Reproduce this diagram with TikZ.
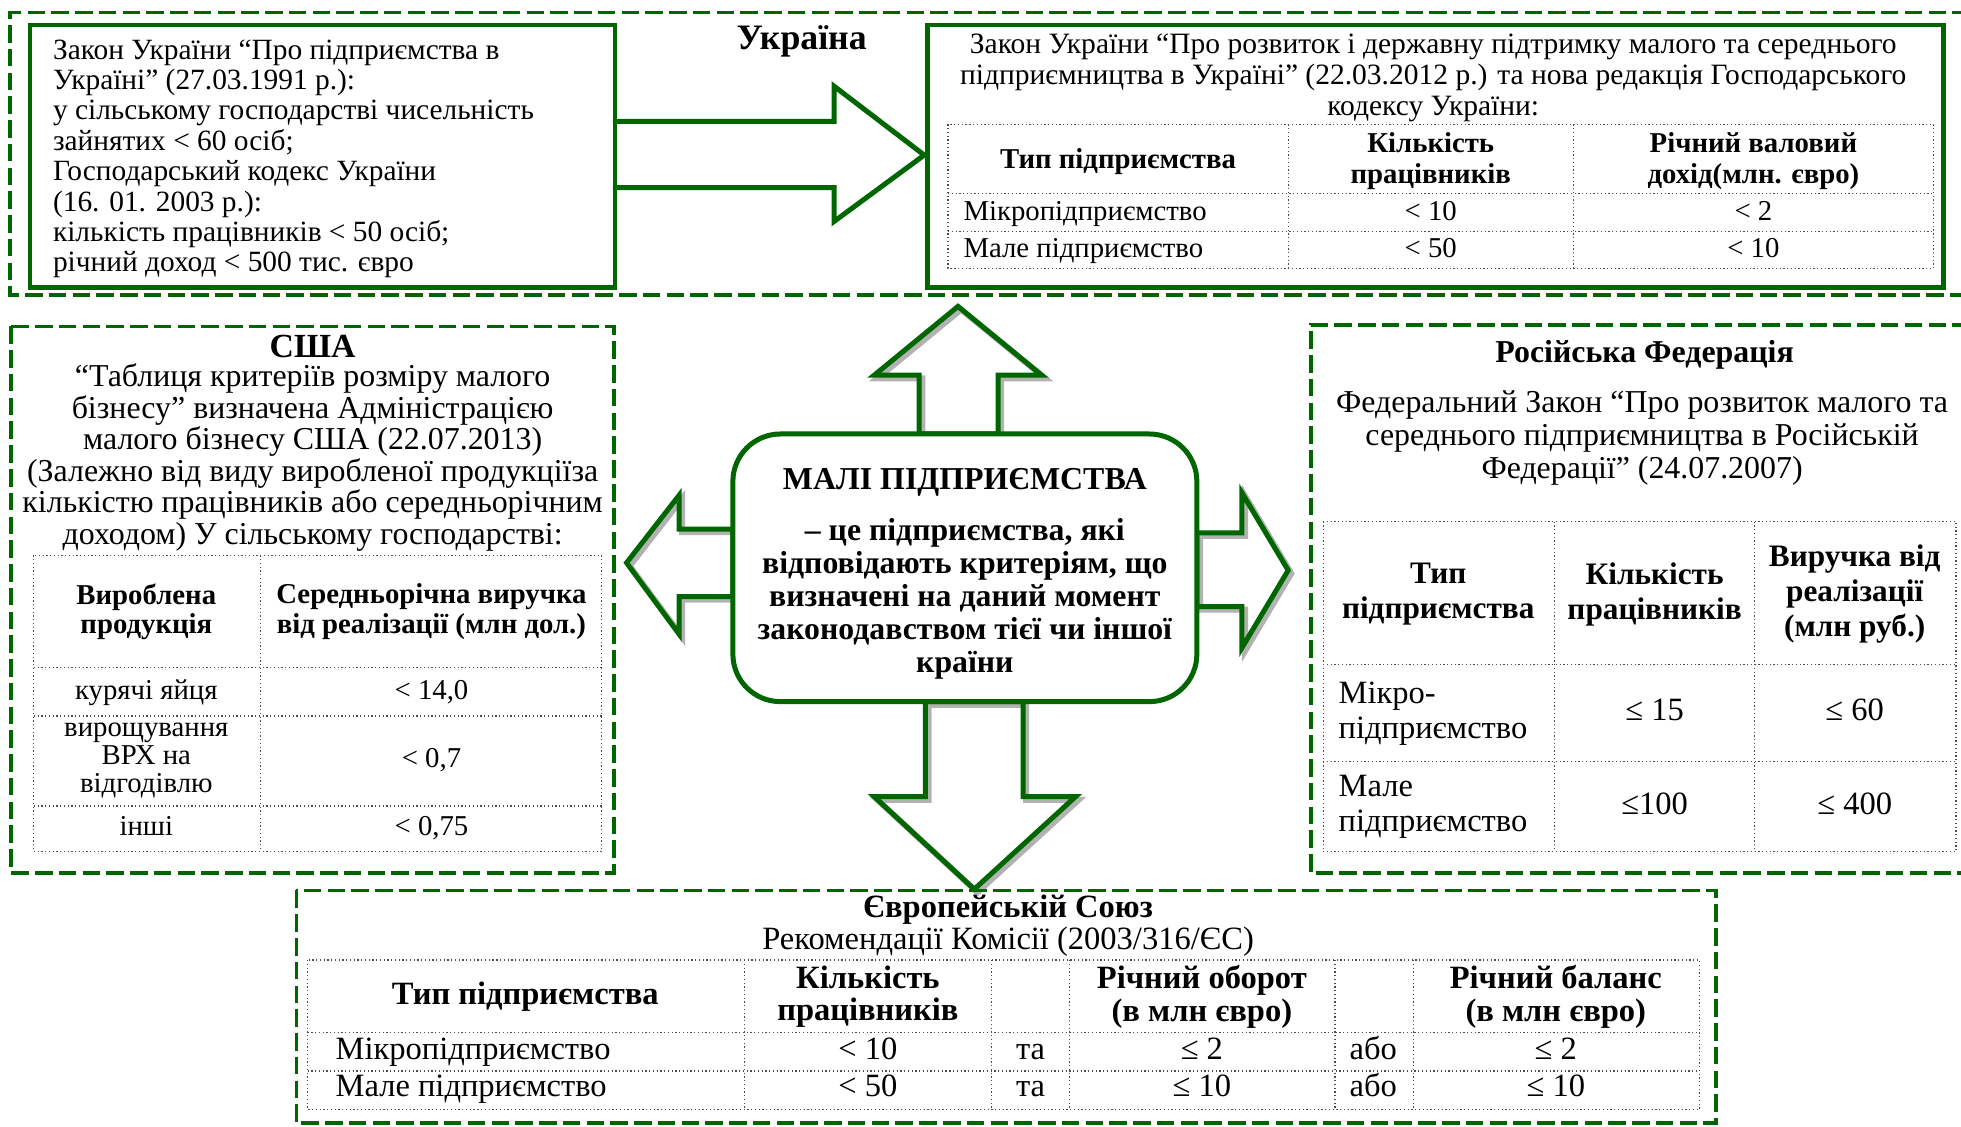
\documentclass[tikz,border=0pt]{standalone}
\usepackage{fontspec}
\setmainfont{Liberation Serif}
\definecolor{lawgreen}{RGB}{0,102,0}
\newcommand\fz[2]{\fontsize{#1}{#2}\selectfont}
\begin{document}
\begin{tikzpicture}[x=0.5pt,y=-0.5pt,
  region/.style={draw=lawgreen, line width=1.5pt, dash pattern=on 7pt off 2.5pt},
  solidbox/.style={draw=lawgreen, line width=1.8pt, inner sep=0pt},
  blockarrow/.style={draw=lawgreen, line width=2pt, line join=miter},
  arrowshade/.style={draw=black!30, line width=2.4pt, line join=miter},
  tabrule/.style={densely dotted, line width=0.5pt, black!70},
  txt/.style={inner sep=0pt, align=center, font=\fz{11.5}{12.2}},
  head/.style={inner sep=0pt, align=center, font=\bfseries\fz{11.5}{12.4}},
  cell/.style={txt, text height=8.5pt, text depth=2.5pt},
]
\useasboundingbox (0,0) rectangle (1568,901);

% ---------- Ukraine ----------
\draw[region] (1575,10) -- (8,10) -- (8,236) -- (1575,236);
\node[solidbox, minimum width=234pt, minimum height=105pt, anchor=north west] (uaold) at (22,18) {};
\node[solidbox, minimum width=406pt, minimum height=105pt, anchor=north west] (uanew) at (740,18) {};
\draw[blockarrow] (490,97) -- (667,97) -- (667,69) -- (739,124) -- (667,177) -- (667,150) -- (490,150);
\node[inner sep=0pt, font=\bfseries\fz{14.3}{15}] (ua) at (641,33) {Україна};

\node[txt, align=left, anchor=west, font=\fz{11.75}{12.15}] (uaoldtxt) at (42,127)
 {Закон України “Про підприємства в\\
  Україні” (27.03.1991 р.):\\
  у сільському господарстві чисельність\\
  зайнятих < 60 осіб;\\
  Господарський кодекс України\\
  (16. 01. 2003 р.):\\
  кількість працівників < 50 осіб;\\
  річний доход < 500 тис. євро};

\node[txt, font=\fz{11.8}{12.4}] (uanewtxt) at (1146,62)
 {Закон України “Про розвиток і державну підтримку малого та середнього\\
  підприємництва в Україні” (22.03.2012 р.) та нова редакція Господарського\\
  кодексу України:};

\draw[tabrule] (758,99.5) rectangle (1546,214.5);
\draw[tabrule] (758,155) -- (1546,155) (758,185) -- (1546,185)
               (1030,99.5) -- (1030,214.5) (1258,99.5) -- (1258,214.5);
\node[head] (ua11) at (894,129) {Тип підприємства};
\node[head] (ua12) at (1144,129) {Кількість\\працівників};
\node[head] (ua13) at (1402,129) {Річний валовий\\дохід(млн. євро)};
\node[cell, anchor=west] (ua21) at (770,170) {Мікропідприємство};
\node[cell] (ua22) at (1144,170) {< 10};
\node[cell] (ua23) at (1402,170) {< 2};
\node[cell, anchor=west] (ua31) at (770,200) {Мале підприємство};
\node[cell] (ua32) at (1144,200) {< 50};
\node[cell] (ua33) at (1402,200) {< 10};

% ---------- block arrows round the centre ----------
\begin{scope}[shift={(2.5,2.5)}]
\draw[arrowshade] (735,347) -- (735,300) -- (699,300) -- (766,245) -- (833,300) -- (798,300) -- (798,347) -- cycle;
\draw[arrowshade] (586,423) -- (543,423) -- (543,396) -- (501,450) -- (543,507) -- (543,477) -- (586,477) -- cycle;
\draw[arrowshade] (957,426) -- (993,426) -- (993,394) -- (1030,456) -- (993,518) -- (993,485) -- (957,485) -- cycle;
\draw[arrowshade] (740,561) -- (740,637) -- (699,637) -- (779,711) -- (860,637) -- (818,637) -- (818,561) -- cycle;
\end{scope}
\draw[blockarrow] (735,347) -- (735,300) -- (699,300) -- (766,245) -- (833,300) -- (798,300) -- (798,347) -- cycle;
\draw[blockarrow] (586,423) -- (543,423) -- (543,396) -- (501,450) -- (543,507) -- (543,477) -- (586,477) -- cycle;
\draw[blockarrow] (957,426) -- (993,426) -- (993,394) -- (1030,456) -- (993,518) -- (993,485) -- (957,485) -- cycle;
\draw[blockarrow] (740,561) -- (740,637) -- (699,637) -- (779,711) -- (860,637) -- (818,637) -- (818,561) -- cycle;

\node[solidbox, line width=2pt, rounded corners=19pt, fill=white, minimum width=185.5pt, minimum height=107pt] (core) at (771.5,454) {};
\node[inner sep=0pt, font=\bfseries\fz{12.75}{13}] (coretitle) at (771.5,386) {МАЛІ ПІДПРИЄМСТВА};
\node[inner sep=0pt, align=center, font=\bfseries\fz{12.7}{13.25}] (coretxt) at (771.5,479)
 {– це підприємства, які\\відповідають критеріям, що\\визначені на даний момент\\законодавством тієї чи іншої\\країни};

% ---------- USA ----------
\draw[region] (9,261) rectangle (491,698);
\node[inner sep=0pt, font=\bfseries\fz{13.5}{14}] (us) at (250,277) {США};
\node[txt, font=\fz{12.75}{12.6}] (ustxt) at (250,366)
 {“Таблиця критеріїв розміру малого\\
  бізнесу” визначена Адміністрацією\\
  малого бізнесу США (22.07.2013)\\
  (Залежно від виду виробленої продукціїза\\
  кількістю працівників або середньорічним\\
  доходом) У сільському господарстві:};
\draw[tabrule] (27,444) rectangle (481,681);
\draw[tabrule] (27,534) -- (481,534) (27,572.5) -- (481,572.5) (27,644.5) -- (481,644.5)
               (208,444) -- (208,681);
\node[head, font=\bfseries\fz{11.5}{11.8}] (us11) at (117,489) {Вироблена\\продукція};
\node[head, font=\bfseries\fz{11.5}{11.8}] (us12) at (345,489) {Середньорічна виручка\\від реалізації (млн дол.)};
\node[cell] (us21) at (117,553) {курячі яйця};
\node[cell] (us22) at (345,553) {< 14,0};
\node[txt, font=\fz{11.5}{11.3}] (us31) at (117,608) {вирощування\\ВРХ на\\відгодівлю};
\node[cell] (us32) at (345,608) {< 0,7};
\node[cell] (us41) at (117,662) {інші};
\node[cell] (us42) at (345,662) {< 0,75};

% ---------- Russian Federation ----------
\draw[region] (1575,260) -- (1048,260) -- (1048,698) -- (1575,698);
\node[inner sep=0pt, font=\bfseries\fz{12.75}{13}] (ru) at (1315,284) {Російська Федерація};
\node[txt, font=\fz{12.75}{13.25}] (rutxt) at (1313,350)
 {Федеральний Закон “Про розвиток малого та\\
  середнього підприємництва в Російській\\
  Федерації” (24.07.2007)};
\draw[tabrule] (1058,417) rectangle (1564,681);
\draw[tabrule] (1058,531.5) -- (1564,531.5) (1058,609) -- (1564,609)
               (1243,417) -- (1243,681) (1403,417) -- (1403,681);
\node[head, font=\bfseries\fz{12.5}{14}] (ru11) at (1150,475) {Тип\\підприємства};
\node[head, font=\bfseries\fz{12.5}{14}] (ru12) at (1323,475) {Кількість\\працівників};
\node[head, font=\bfseries\fz{12.5}{14}] (ru13) at (1483,475) {Виручка від\\реалізації\\(млн руб.)};
\node[txt, align=left, anchor=west, font=\fz{13}{14}] (ru21) at (1070,571) {Мікро-\\підприємство};
\node[cell, font=\fz{13}{14}] (ru22) at (1323,570) {≤ 15};
\node[cell, font=\fz{13}{14}] (ru23) at (1483,570) {≤ 60};
\node[txt, align=left, anchor=west, font=\fz{13}{14}] (ru31) at (1070,645) {Мале\\підприємство};
\node[cell, font=\fz{13}{14}] (ru32) at (1323,645) {≤100};
\node[cell, font=\fz{13}{14}] (ru33) at (1483,645) {≤ 400};

% ---------- European Union ----------
\draw[region] (237,712) rectangle (1372,898);
\node[inner sep=0pt, font=\bfseries\fz{13}{14}] (eu) at (806,727) {Європейській Союз};
\node[txt, font=\fz{13}{14}] (eusub) at (806,753) {Рекомендації Комісії (2003/316/ЄС)};
\draw[tabrule] (246,767.6) rectangle (1359,887);
\draw[tabrule] (246,825.7) -- (1359,825.7) (246,856.4) -- (1359,856.4)
               (595,767.6) -- (595,887) (793,767.6) -- (793,887) (855,767.6) -- (855,887)
               (1067.5,767.6) -- (1067.5,887) (1130,767.6) -- (1130,887);
\node[head, font=\bfseries\fz{13}{13}] (eu11) at (420,797) {Тип підприємства};
\node[head, font=\bfseries\fz{13}{13}] (eu12) at (694,797) {Кількість\\працівників};
\node[head, font=\bfseries\fz{13}{13}] (eu14) at (961,797) {Річний оборот\\(в млн євро)};
\node[head, font=\bfseries\fz{13}{13}] (eu16) at (1244,797) {Річний баланс\\(в млн євро)};
\node[cell, anchor=west, font=\fz{13}{14}] (eu21) at (268,841) {Мікропідприємство};
\node[cell, font=\fz{13}{14}] (eu22) at (694,841) {< 10};
\node[cell, font=\fz{13}{14}] (eu23) at (824,841) {та};
\node[cell, font=\fz{13}{14}] (eu24) at (961,841) {≤ 2};
\node[cell, font=\fz{13}{14}] (eu25) at (1098,841) {або};
\node[cell, font=\fz{13}{14}] (eu26) at (1244,841) {≤ 2};
\node[cell, anchor=west, font=\fz{13}{14}] (eu31) at (268,871) {Мале підприємство};
\node[cell, font=\fz{13}{14}] (eu32) at (694,871) {< 50};
\node[cell, font=\fz{13}{14}] (eu33) at (824,871) {та};
\node[cell, font=\fz{13}{14}] (eu34) at (961,871) {≤ 10};
\node[cell, font=\fz{13}{14}] (eu35) at (1098,871) {або};
\node[cell, font=\fz{13}{14}] (eu36) at (1244,871) {≤ 10};
\end{tikzpicture}
\end{document}
